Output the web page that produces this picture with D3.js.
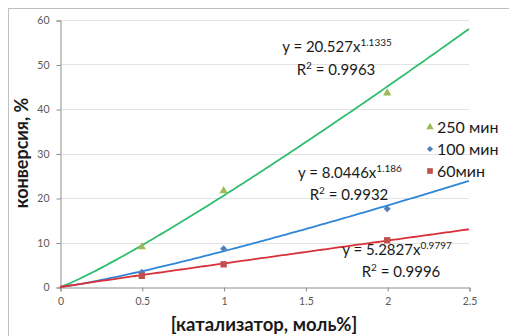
<!DOCTYPE html>
<meta charset="utf-8">
<script src="https://d3js.org/d3.v7.min.js"></script>
<style>
  body { margin: 0; padding: 0; background: white; font-family: Lato, "Open Sans", sans-serif; }
</style>
<body>
<svg id="chart" width="509" height="336"></svg>
<script>
  // measured points
  var xs = [0.5, 1, 2];
  var y250 = [9.0, 21.6, 43.6];
  var y100 = [3.3, 8.6, 17.6];
  var y60 = [2.5, 5.1, 10.5];

  // power trendline coefficients, y = a * x^b (from the chart labels)
  var fitA = [20.527, 8.0446, 5.2827];
  var fitB = [1.1335, 1.186, 0.9797];
  var fitR2 = ["0.9963", "0.9932", "0.9996"];

  var seriesNames = ["250 мин", "100 мин", "60мин"];
  var xTicks = [0, 0.5, 1, 1.5, 2, 2.5];
  var yTicks = [0, 10, 20, 30, 40, 50, 60];

  var svg = d3.select("#chart");

  // outer chart frame
  svg.append("rect")
    .attr("x", 8.5).attr("y", 8.5)
    .attr("width", 520).attr("height", 340)
    .attr("fill", "none")
    .attr("stroke", "#bfbfbf");

  var x = d3.scaleLinear().domain([0, 2.5]).range([60, 469]);
  var y = d3.scaleLinear().domain([0, 60]).range([287, 20]);

  // gridlines
  svg.append("g")
    .selectAll("line")
    .data(yTicks.slice(1))
    .enter().append("line")
    .attr("x1", x(0)).attr("x2", x(2.5))
    .attr("y1", d => Math.round(y(d)) + 0.5)
    .attr("y2", d => Math.round(y(d)) + 0.5)
    .attr("stroke", "#e3e3e3");

  // axes
  var yAxis = svg.append("g")
    .attr("transform", "translate(" + (x(0) + 0.5) + ",0.5)")
    .call(d3.axisLeft(y).tickValues(yTicks).tickSize(4).tickPadding(7));
  var xAxis = svg.append("g")
    .attr("transform", "translate(0.5," + (y(0) + 0.5) + ")")
    .call(d3.axisBottom(x).tickValues(xTicks).tickSize(4).tickPadding(6)
      .tickFormat(d3.format("")));

  [yAxis, xAxis].forEach(function (g) {
    g.selectAll("path, line").attr("stroke", "#8c8c8c");
    g.selectAll("text")
      .attr("fill", "#595959")
      .style("font-family", "Lato, sans-serif")
      .style("font-size", "10.5px");
  });

  // trendlines
  var colorsLine = ["#2fbd6f", "#2f86d6", "#d8313a"];
  var colorsMark = ["#9bbb59", "#4f81bd", "#c0504d"];
  var samples = d3.range(0, 2.501, 0.02);

  var line = d3.line()
    .x(d => x(d[0]))
    .y(d => y(d[1]));

  fitA.forEach(function (a, i) {
    svg.append("path")
      .datum(samples.map(t => [t, a * Math.pow(t, fitB[i])]))
      .attr("d", line)
      .attr("fill", "none")
      .attr("stroke", colorsLine[i])
      .attr("stroke-width", 1.8);
  });

  // markers (diamond = square turned 45 degrees, like Excel)
  var symbols = [d3.symbolTriangle, d3.symbolSquare, d3.symbolSquare];
  var sizes = [30, 24, 40];
  var turn = [0, 45, 0];
  [y250, y100, y60].forEach(function (vals, i) {
    svg.append("g")
      .selectAll("path")
      .data(vals)
      .enter().append("path")
      .attr("transform", (d, j) => "translate(" + x(xs[j]) + "," + y(d) + ") rotate(" + turn[i] + ")")
      .attr("d", d3.symbol().type(symbols[i]).size(sizes[i]))
      .attr("fill", colorsMark[i]);
  });

  // equation labels: [eq centre x, eq baseline, R2 centre x, R2 baseline]
  var eqPos = [[337, 52, 336, 75], [350, 178, 349, 200], [397, 255, 401, 277]];
  fitA.forEach(function (a, i) {
    var t = svg.append("text")
      .attr("x", eqPos[i][0]).attr("y", eqPos[i][1])
      .attr("text-anchor", "middle")
      .attr("fill", "#1a1a1a")
      .style("font-size", "15px");
    t.append("tspan").text("y = " + a + "x");
    t.append("tspan").attr("dy", -6).style("font-size", "10px").text(fitB[i]);

    var r = svg.append("text")
      .attr("x", eqPos[i][2]).attr("y", eqPos[i][3])
      .attr("text-anchor", "middle")
      .attr("fill", "#1a1a1a")
      .style("font-size", "15px");
    r.append("tspan").text("R");
    r.append("tspan").attr("dy", -6).style("font-size", "10px").text("2");
    r.append("tspan").attr("dy", 6).text(" = " + fitR2[i]);
  });

  // legend
  var legend = svg.append("g").attr("transform", "translate(430,127)");
  seriesNames.forEach(function (name, i) {
    legend.append("path")
      .attr("transform", "translate(0," + (i * 22) + ") rotate(" + turn[i] + ")")
      .attr("d", d3.symbol().type(symbols[i]).size(sizes[i] * 0.8))
      .attr("fill", colorsMark[i]);
    legend.append("text")
      .attr("x", 7).attr("y", i * 22 + 6)
      .attr("fill", "#1a1a1a")
      .style("font-size", "16px")
      .text(name);
  });

  // axis titles
  svg.append("text")
    .attr("transform", "translate(28,153) rotate(-90)")
    .attr("text-anchor", "middle")
    .style("font-size", "18px")
    .style("font-weight", "bold")
    .attr("fill", "#1a1a1a")
    .text("конверсия, %");

  svg.append("text")
    .attr("x", 264).attr("y", 331)
    .attr("text-anchor", "middle")
    .style("font-size", "18.5px")
    .style("font-weight", "bold")
    .attr("fill", "#1a1a1a")
    .text("[катализатор, моль%]");
</script>
</body>
